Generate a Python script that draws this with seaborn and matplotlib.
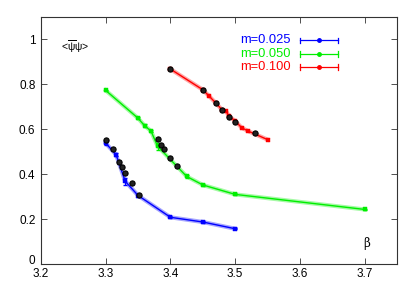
import matplotlib
matplotlib.use("Agg")
import matplotlib.pyplot as plt
import matplotlib.transforms as mtrans
import seaborn as sns
import numpy as np
import pandas as pd

# m=0.025 (blue)
beta_025 = [3.30, 3.316, 3.33, 3.35, 3.40, 3.45, 3.50]
pbp_025 = [0.538, 0.487, 0.369, 0.305, 0.208, 0.187, 0.157]
err_025 = [0.010, 0.008, 0.016, 0.006, 0.004, 0.004, 0.003]

# m=0.050 (green)
beta_050 = [3.30, 3.35, 3.36, 3.37, 3.38, 3.425, 3.45, 3.50, 3.70]
pbp_050 = [0.773, 0.649, 0.616, 0.592, 0.525, 0.390, 0.352, 0.310, 0.243]
err_050 = [0.004, 0.005, 0.006, 0.006, 0.016, 0.008, 0.006, 0.004, 0.003]

# m=0.100 (red)
beta_100 = [3.40, 3.45, 3.46, 3.47, 3.48, 3.486, 3.49, 3.50, 3.51, 3.52, 3.55]
pbp_100 = [0.868, 0.776, 0.747, 0.717, 0.686, 0.680, 0.660, 0.637, 0.607, 0.592, 0.554]

# black points (other data sets)
beta_blk = [3.30, 3.311, 3.320, 3.325, 3.330, 3.340, 3.351,
            3.380, 3.385, 3.390, 3.400, 3.410,
            3.400, 3.450, 3.470, 3.480, 3.490, 3.500, 3.530]
pbp_blk = [0.553, 0.512, 0.456, 0.434, 0.404, 0.359, 0.306,
           0.556, 0.532, 0.514, 0.474, 0.436,
           0.868, 0.776, 0.719, 0.684, 0.653, 0.632, 0.584]

legend_labels = ["m=0.025", "m=0.050", "m=0.100"]
colors = ["#0000ff", "#00ee00", "#ff0000"]

plt.rcParams['font.family'] = ['Liberation Sans', 'DejaVu Sans']
plt.rcParams['mathtext.default'] = 'regular'
fig = plt.figure(figsize=(4.14, 2.90), dpi=100)
ax = fig.add_axes([41/414, 26/290, 356/414, 247/290])

series = [(beta_025, pbp_025, err_025), (beta_050, pbp_050, err_050), (beta_100, pbp_100, None)]
for (b, p, e), c in zip(series, colors):
    df = pd.DataFrame({"beta": b, "pbp": p})
    sns.lineplot(data=df, x="beta", y="pbp", ax=ax, color=c, lw=3.0, alpha=0.35, sort=True)
    sns.lineplot(data=df, x="beta", y="pbp", ax=ax, color=c, lw=1.0, sort=True)
    sns.scatterplot(data=df, x="beta", y="pbp", ax=ax, color=c, marker="s", s=9,
                    edgecolor=c, linewidth=0.3, zorder=4)
    if e is not None:
        ax.errorbar(b, p, yerr=e, fmt="none", ecolor=c, elinewidth=0.8, capsize=1.5, zorder=4)

dfb = pd.DataFrame({"beta": beta_blk, "pbp": pbp_blk})
sns.scatterplot(data=dfb, x="beta", y="pbp", ax=ax, color="#222222", marker="o", s=14,
                edgecolor="black", linewidth=0.8, zorder=5)

ax.set_xlim(3.2, 3.75)
ax.set_ylim(0, 1.1)
ax.set_xticks([3.2, 3.3, 3.4, 3.5, 3.6, 3.7])
ax.set_xticklabels(["3.2", "3.3", "3.4", "3.5", "3.6", "3.7"])
ax.set_yticks([0, 0.2, 0.4, 0.6, 0.8, 1.0])
ax.set_yticklabels(["0", "0.2", "0.4", "0.6", "0.8", "1"])
ax.tick_params(direction="in", length=4, width=0.6, top=True, right=True,
               labelsize=8.5, colors="#333333", labelcolor="black")
ax.tick_params(axis="x", pad=3)
ax.tick_params(axis="y", pad=4)
ax.set_xlabel("")
ax.set_ylabel("")
for s in ax.spines.values():
    s.set_linewidth(0.8)
    s.set_color("#333333")

fig.canvas.draw()
lbl0 = ax.get_yticklabels()[0]
lbl0.set_transform(lbl0.get_transform() + mtrans.ScaledTranslation(0, 3/72, fig.dpi_scale_trans))

ax.text(0.055, 0.88, r"<$\overline{\psi}\psi$>", transform=ax.transAxes, fontsize=7.5,
        ha="left", va="center")
ax.text(0.915, 0.085, "β", transform=ax.transAxes, fontsize=8.5,
        ha="center", va="center", family=["DejaVu Serif"])

# legend
ys = [0.905, 0.852, 0.799]
for lab, c, yy in zip(legend_labels, colors, ys):
    ax.text(0.702, yy, lab, transform=ax.transAxes, color=c, fontsize=9.3,
            ha="right", va="center")
    ax.plot([0.727, 0.834], [yy, yy], transform=ax.transAxes, color=c, lw=0.9)
    for xx in (0.727, 0.834):
        ax.plot([xx, xx], [yy - 0.012, yy + 0.012], transform=ax.transAxes, color=c, lw=0.9)
    ax.plot([0.780], [yy], transform=ax.transAxes, color=c, marker="o", ms=2.5)

fig.savefig("out.png", dpi=100)
